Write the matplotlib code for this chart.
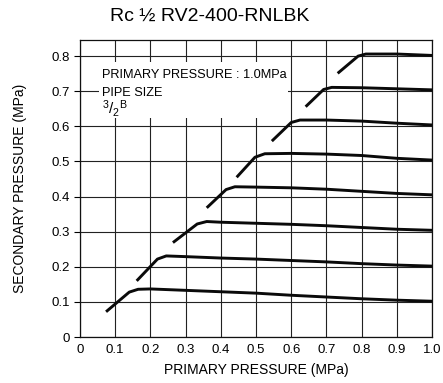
import matplotlib
matplotlib.use('Agg')
import matplotlib.pyplot as plt
from matplotlib.patches import Rectangle

plt.rcParams['font.family'] = ['Liberation Sans', 'DejaVu Sans']
plt.rcParams['mathtext.fontset'] = 'custom'
plt.rcParams['mathtext.rm'] = 'Liberation Sans'

# Secondary pressure curves (primary pressure, secondary pressure)
x_01 = [0.074, 0.140, 0.165, 0.200, 0.300, 0.400, 0.500, 0.600, 0.700, 0.800, 0.900, 1.000]
y_01 = [0.072, 0.128, 0.136, 0.137, 0.133, 0.129, 0.125, 0.119, 0.114, 0.109, 0.105, 0.102]

x_02 = [0.161, 0.220, 0.245, 0.300, 0.400, 0.500, 0.600, 0.700, 0.800, 0.900, 1.000]
y_02 = [0.160, 0.222, 0.231, 0.229, 0.225, 0.222, 0.218, 0.214, 0.209, 0.205, 0.202]

x_03 = [0.264, 0.333, 0.360, 0.400, 0.500, 0.600, 0.700, 0.800, 0.900, 1.000]
y_03 = [0.269, 0.322, 0.329, 0.327, 0.324, 0.321, 0.317, 0.312, 0.307, 0.304]

x_04 = [0.360, 0.415, 0.440, 0.500, 0.600, 0.700, 0.800, 0.900, 1.000]
y_04 = [0.368, 0.420, 0.428, 0.427, 0.425, 0.421, 0.415, 0.409, 0.405]

x_05 = [0.445, 0.497, 0.525, 0.600, 0.700, 0.800, 0.900, 1.000]
y_05 = [0.455, 0.512, 0.522, 0.523, 0.521, 0.517, 0.509, 0.504]

x_06 = [0.545, 0.600, 0.625, 0.700, 0.800, 0.900, 1.000]
y_06 = [0.558, 0.611, 0.618, 0.618, 0.615, 0.609, 0.604]

x_07 = [0.641, 0.692, 0.715, 0.800, 0.900, 1.000]
y_07 = [0.656, 0.705, 0.711, 0.710, 0.707, 0.704]

x_08 = [0.732, 0.790, 0.812, 0.900, 1.000]
y_08 = [0.751, 0.800, 0.806, 0.806, 0.802]

curves = [(x_01, y_01), (x_02, y_02), (x_03, y_03), (x_04, y_04),
          (x_05, y_05), (x_06, y_06), (x_07, y_07), (x_08, y_08)]

x_ticks = [0, 0.1, 0.2, 0.3, 0.4, 0.5, 0.6, 0.7, 0.8, 0.9, 1.0]
x_labels = ['0', '0.1', '0.2', '0.3', '0.4', '0.5', '0.6', '0.7', '0.8', '0.9', '1.0']
y_ticks = [0, 0.1, 0.2, 0.3, 0.4, 0.5, 0.6, 0.7, 0.8]
y_labels = ['0', '0.1', '0.2', '0.3', '0.4', '0.5', '0.6', '0.7', '0.8']

fig = plt.figure(figsize=(4.43, 3.83), dpi=100)
ax = fig.add_axes([0.1806, 0.120, 0.7946, 0.7756])

for xs, ys in curves:
    ax.plot(xs, ys, color='#0a0a0a', lw=2.1, solid_capstyle='butt', zorder=3)

ax.set_xlim(0, 1.0)
ax.set_ylim(0, 0.846)
ax.set_xticks(x_ticks)
ax.set_xticklabels(x_labels, fontsize=9.5)
ax.set_yticks(y_ticks)
ax.set_yticklabels(y_labels, fontsize=9.5)
ax.tick_params(axis='x', length=0, pad=5)
ax.tick_params(axis='y', length=4, width=0.8, direction='out', pad=3)
ax.set_axisbelow(True)
ax.grid(True, color='#222222', lw=0.8)
for s in ax.spines.values():
    s.set_linewidth(0.9)
    s.set_color('#111111')

# white box behind the note
ax.add_patch(Rectangle((0.055, 0.624), 0.535, 0.16, facecolor='white', edgecolor='none', zorder=1))
ax.text(0.0625, 0.746, 'PRIMARY PRESSURE : 1.0MPa', fontsize=9.2, va='center', ha='left', zorder=4)
ax.text(0.0625, 0.695, 'PIPE SIZE', fontsize=9.2, va='center', ha='left', zorder=4)
ax.text(0.0625, 0.650, r'$\mathregular{^3/_2{}^B}$', fontsize=11, va='center', ha='left', zorder=4)

ax.set_xlabel('PRIMARY PRESSURE (MPa)', fontsize=10, labelpad=5)
ax.set_ylabel('SECONDARY PRESSURE (MPa)', fontsize=10, labelpad=18)
fig.text(0.474, 0.958, 'Rc ½ RV2-400-RNLBK', fontsize=14, ha='center', va='center')

fig.savefig('out.png', dpi=100)
